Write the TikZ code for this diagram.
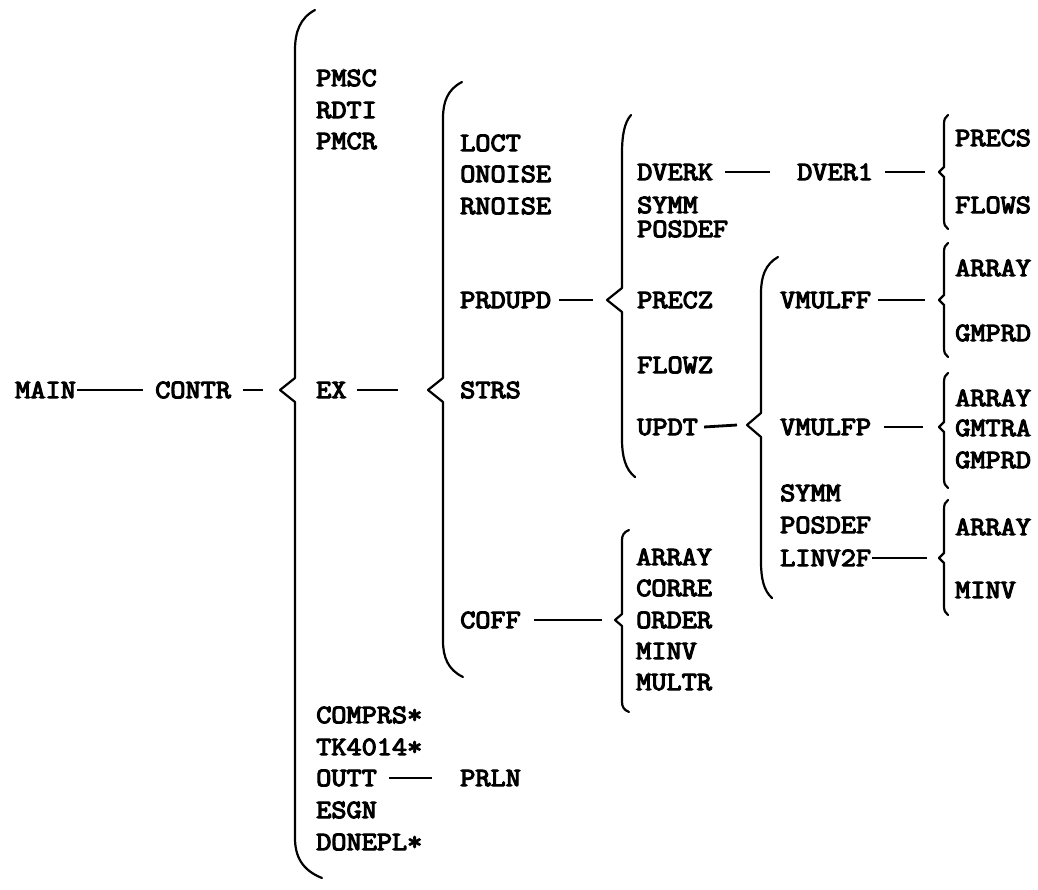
\documentclass[tikz,border=0pt]{standalone}
\usepackage{fontspec}
\newfontfamily\tw{Latin Modern Mono}[FakeBold=4]
\tikzset{
  lbl/.style={anchor=west, inner sep=0pt, font=\tw\fontsize{26.5}{27}\selectfont,
    text height=16.2pt, text depth=0pt, xscale=1.11, transform shape},
  conn/.style={line width=2.8pt},
  brc/.style={line width=2.2pt, line join=round, line cap=round},
}
% x, ytop, ytip, ybot, top hook width, bottom hook width, hook height, tip depth, tip half-height
\newcommand\mybrace[9]{%
  \draw[brc] ({#1+#5},#2) .. controls ({#1+0.25*#5},{#2+0.2*#7}) and (#1,{#2+0.55*#7}) .. (#1,{#2+#7})
    -- (#1,{#3-#9}) -- ({#1-#8},#3) -- (#1,{#3+#9}) -- (#1,{#4-#7})
    .. controls (#1,{#4-0.55*#7}) and ({#1+0.25*#6},{#4-0.2*#7}) .. ({#1+#6},#4);}
\begin{document}
\begin{tikzpicture}[x=1pt,y=-1pt]
\useasboundingbox (0,0) rectangle (1038,890);
% tips of the braces
\coordinate (t1) at (280,390);
\coordinate (t2) at (428,390);
\coordinate (t3) at (607,300);
\coordinate (tc) at (615,620);
\coordinate (t4) at (747,425);
\coordinate (r1) at (939,172);
\coordinate (r2) at (939,300);
\coordinate (r3) at (939,427);
\coordinate (r4) at (939,558);
% braces
\mybrace{295}{10}{390}{878}{20}{27}{40}{15}{12}
\mybrace{443}{82}{390}{677}{19}{20}{36}{15}{12}
\mybrace{622}{115}{300}{477}{9}{13}{38}{15}{12}
\mybrace{761}{257}{425}{598}{17}{11}{36}{14}{12}
\mybrace{622}{530}{620}{712}{7}{7}{10}{7}{6}
\mybrace{944}{115}{172}{229}{4}{4}{9}{5}{5}
\mybrace{944}{243}{300}{357}{4}{4}{9}{5}{5}
\mybrace{944}{373}{427}{488}{4}{4}{9}{5}{5}
\mybrace{944}{500}{558}{615}{4}{4}{9}{5}{5}
% level 0-1
\node[lbl] (main) at (15,390) {MAIN};
\node[lbl] (contr) at (155,390) {CONTR};
% level 2
\node[lbl] (pmsc) at (316,78) {PMSC};
\node[lbl] (rdti) at (316,110) {RDTI};
\node[lbl] (pmcr) at (316,141) {PMCR};
\node[lbl] (ex) at (316,390) {EX};
\node[lbl] (comprs) at (316,715) {COMPRS*};
\node[lbl] (tk) at (316,747) {TK4014*};
\node[lbl] (outt) at (316,778) {OUTT};
\node[lbl] (esgn) at (316,810) {ESGN};
\node[lbl] (donepl) at (316,842) {DONEPL*};
\node[lbl] (prln) at (460,778) {PRLN};
% level 3
\node[lbl] (loct) at (460,143) {LOCT};
\node[lbl] (onoise) at (460,174) {ONOISE};
\node[lbl] (rnoise) at (460,206) {RNOISE};
\node[lbl] (prdupd) at (460,300) {PRDUPD};
\node[lbl] (strs) at (460,390) {STRS};
\node[lbl] (coff) at (460,620) {COFF};
% level 4
\node[lbl] (dverk) at (637,172) {DVERK};
\node[lbl] (symma) at (637,205) {SYMM};
\node[lbl] (posdefa) at (637,229) {POSDEF};
\node[lbl] (precz) at (637,300) {PRECZ};
\node[lbl] (flowz) at (637,365) {FLOWZ};
\node[lbl] (updt) at (637,427) {UPDT};
\node[lbl] (arrayc) at (636,557) {ARRAY};
\node[lbl] (corre) at (636,588) {CORRE};
\node[lbl] (order) at (636,620) {ORDER};
\node[lbl] (minvc) at (636,651) {MINV};
\node[lbl] (multr) at (636,682) {MULTR};
% level 5
\node[lbl] (dver1) at (797,172) {DVER1};
\node[lbl] (vmulff) at (780,300) {VMULFF};
\node[lbl] (vmulfp) at (780,427) {VMULFP};
\node[lbl] (symmb) at (780,493) {SYMM};
\node[lbl] (posdefb) at (780,525) {POSDEF};
\node[lbl] (linv) at (780,558) {LINV2F};
% level 6
\node[lbl] (precs) at (955,138) {PRECS};
\node[lbl] (flows) at (955,205) {FLOWS};
\node[lbl] (arraya) at (955,268) {ARRAY};
\node[lbl] (gmprda) at (955,333) {GMPRD};
\node[lbl] (arrayb) at (955,398) {ARRAY};
\node[lbl] (gmtra) at (955,428) {GMTRA};
\node[lbl] (gmprdb) at (955,460) {GMPRD};
\node[lbl] (arrayd) at (955,527) {ARRAY};
\node[lbl] (minvd) at (955,590) {MINV};
% connectors
\draw[conn] ([xshift=1]main.east) -- ([xshift=-12]contr.west);
\draw[conn] ([xshift=12]contr.east) -- ([xshift=-17]t1);
\draw[conn] ([xshift=10]ex.east) -- ([xshift=-30]t2);
\draw[conn] ([xshift=8]prdupd.east) -- ([xshift=-14]t3);
\draw[conn] ([xshift=13]coff.east) -- ([xshift=-13]tc);
\draw[conn] ([xshift=12]dverk.east) -- ([xshift=-27]dver1.west);
\draw[conn] ([xshift=12]dver1.east) -- ([xshift=-14]r1);
\draw[conn] ([xshift=6]updt.east) -- ([xshift=-10]t4);
\draw[conn] ([xshift=7]vmulff.east) -- ([xshift=-14]r2);
\draw[conn] ([xshift=13]vmulfp.east) -- ([xshift=-16]r3);
\draw[conn] ([xshift=1]linv.east) -- ([xshift=-12]r4);
\draw[conn] ([xshift=12]outt.east) -- ([xshift=-28]prln.west);
\end{tikzpicture}
\end{document}
